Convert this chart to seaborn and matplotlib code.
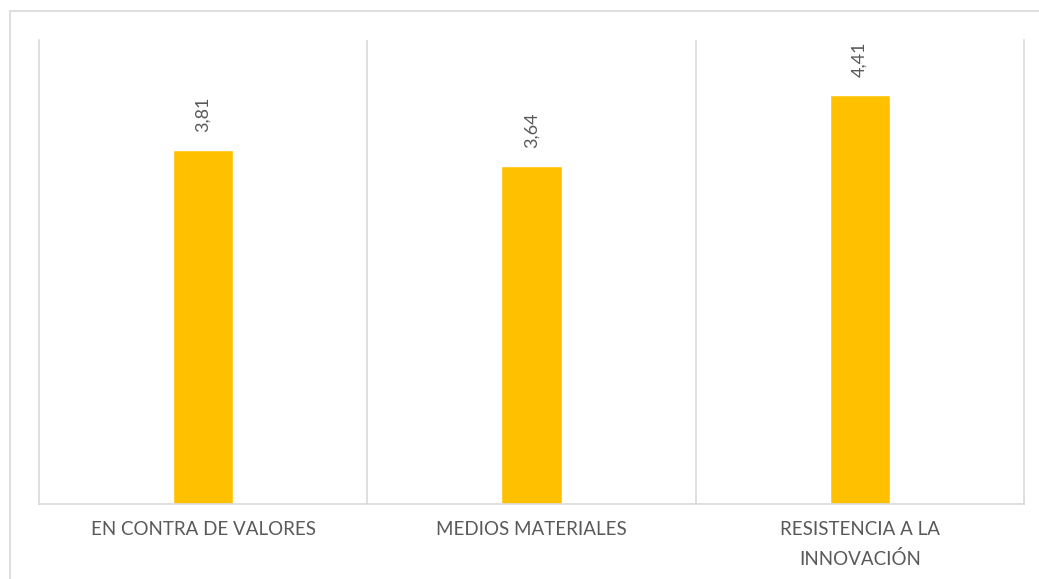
import matplotlib
matplotlib.use("Agg")
import matplotlib.pyplot as plt
import seaborn as sns
import pandas as pd
from matplotlib.lines import Line2D

categories = ["EN CONTRA DE VALORES", "MEDIOS MATERIALES", "RESISTENCIA A LA\nINNOVACIÓN"]
values = [3.81, 3.64, 4.41]

sns.set_theme(style="white")
plt.rcParams["font.family"] = ["Lato", "DejaVu Sans"]

df = pd.DataFrame({"categoria": categories, "valor": values})

fig = plt.figure(figsize=(10.39, 5.79), dpi=100)
ax = fig.add_axes([39 / 1039, 75 / 579, (1024 - 39) / 1039, (504 - 40) / 579])

sns.barplot(data=df, x="categoria", y="valor", color="#FFC000", width=0.183,
            saturation=1, ax=ax)

grid_col = "#D9D9D9"
ax.set_ylim(0, 5)
ax.set_xlim(-0.5, 2.5)
ax.set_yticks([])
ax.set_xlabel("")
ax.set_ylabel("")
ax.set_xticks([0.5, 1.5], minor=True)
ax.grid(False)
ax.grid(which="minor", axis="x", color=grid_col, linewidth=1.2)
ax.tick_params(axis="x", which="both", length=0, pad=12, labelsize=13.5, labelcolor="#595959")
for lbl in ax.get_xticklabels():
    lbl.set_linespacing(1.8)
for side in ["left", "right", "bottom"]:
    ax.spines[side].set_color(grid_col)
    ax.spines[side].set_linewidth(1.2)
ax.spines["top"].set_visible(False)

ax.bar_label(ax.containers[0],
             labels=[f"{v:.2f}".replace(".", ",") for v in values],
             rotation=90, padding=13, fontsize=13, color="#595959")

# outer frame of the chart area
fig.add_artist(Line2D([10 / 1039, 1.0], [1 - 11 / 579, 1 - 11 / 579],
                      transform=fig.transFigure, color=grid_col, linewidth=1.2))
fig.add_artist(Line2D([10 / 1039, 10 / 1039], [0.0, 1 - 11 / 579],
                      transform=fig.transFigure, color=grid_col, linewidth=1.2))

fig.savefig("out.png", dpi=100, facecolor="white")
